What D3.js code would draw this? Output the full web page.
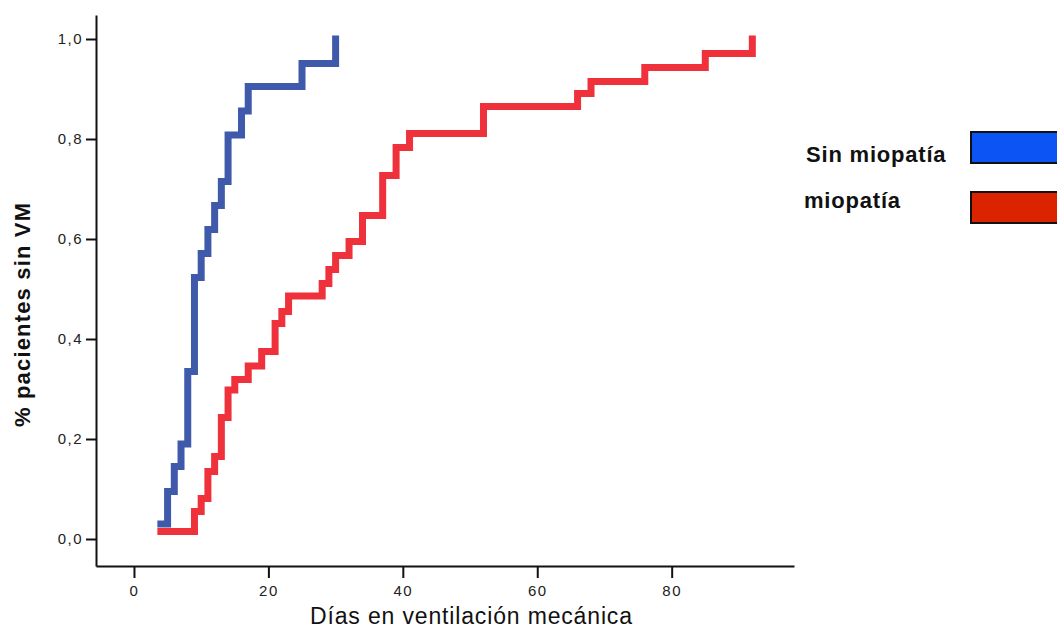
<!DOCTYPE html>
<html>
<head>
<meta charset="utf-8">
<script src="https://cdn.jsdelivr.net/npm/d3@7"></script>
<style>
  body { margin: 0; background: white; }
  svg text { font-family: "Liberation Sans", Arial, sans-serif; }
  .axis path, .axis line { stroke: #111; stroke-width: 2; }
  .axis text { font-size: 15px; fill: #222; letter-spacing: 1.5px; }
</style>
</head>
<body>
<svg width="1057" height="631"></svg>
<script>
// Kaplan-Meier style curves
var
  sinDays = [4, 5, 6, 7, 8, 9, 10, 11, 12, 13, 14, 16, 17, 25, 30],
  sinProp = [0.03, 0.095, 0.145, 0.19, 0.335, 0.523, 0.571, 0.619, 0.667, 0.715, 0.808, 0.856, 0.905, 0.951, 1.0]

var
  mioDays = [4, 9, 10, 11, 12, 13, 14, 15, 17, 19, 21, 22, 23, 28, 29, 30, 32, 34, 37, 39, 41, 52, 66, 68, 76, 85, 92],
  mioProp = [0.015, 0.055, 0.081, 0.135, 0.165, 0.243, 0.298, 0.319, 0.346, 0.375, 0.431, 0.455, 0.486, 0.511,
    0.539, 0.567, 0.595, 0.647, 0.727, 0.783, 0.811, 0.865, 0.891, 0.915, 0.943, 0.971, 1.0]

var
  xTicks = [0, 20, 40, 60, 80],
  yTicks = [0, 0.2, 0.4, 0.6, 0.8, 1.0],
  legendLabels = ["Sin miopatía", "miopatía"]

var
  lineColors = ["#3f5aab", "#ef313c"],
  swatchColors = ["#0c55f4", "#dc2300"]

var svg = d3.select("svg")

var
  days = d3.scaleLinear().domain([-5.65, 98.2]).range([96, 794]),
  prop = d3.scaleLinear().domain([-0.054, 1.048]).range([566, 15])

var xAxis = svg.append("g").attr("class", "axis")
  .attr("transform", "translate(0,566)")
  .call(d3.axisBottom(days).tickValues(xTicks).tickSize(12).tickSizeOuter(0).tickPadding(7))

var yAxis = svg.append("g").attr("class", "axis")
  .attr("transform", "translate(96,0)")
  .call(d3.axisLeft(prop).tickValues(yTicks).tickSize(10).tickSizeOuter(0).tickPadding(3)
    .tickFormat(d => d3.format(".1f")(d).replace(".", ",")))

var line = d3.line()
  .x(d => days(d[0]))
  .y(d => prop(d[1]))
  .curve(d3.curveStepAfter)

var series = [d3.zip(sinDays, sinProp), d3.zip(mioDays, mioProp)]

svg.selectAll("path.km")
  .data(series)
  .join("path")
  .attr("class", "km")
  .attr("d", line)
  .attr("fill", "none")
  .attr("stroke", (d, i) => lineColors[i])
  .attr("stroke-width", 7)
  .attr("stroke-linecap", "square")
  .attr("stroke-linejoin", "miter")

svg.append("text")
  .attr("transform", "translate(30,315) rotate(-90)")
  .attr("text-anchor", "middle")
  .attr("textLength", 224)
  .attr("lengthAdjust", "spacing")
  .style("font-size", "22px")
  .style("font-weight", "bold")
  .style("fill", "#111")
  .text("% pacientes sin VM")

svg.append("text")
  .attr("x", 471)
  .attr("y", 624)
  .attr("text-anchor", "middle")
  .attr("textLength", 322)
  .attr("lengthAdjust", "spacing")
  .style("font-size", "23px")
  .style("fill", "#111")
  .text("Días en ventilación mecánica")

var legend = svg.selectAll("g.legend")
  .data(legendLabels)
  .join("g")
  .attr("class", "legend")
  .attr("transform", (d, i) => `translate(0,${i * 60})`)

legend.append("text")
  .attr("x", (d, i) => i ? 804 : 806)
  .attr("y", (d, i) => i ? 148 : 162)
  .style("font-size", "22px")
  .style("font-weight", "bold")
  .style("letter-spacing", "0.8px")
  .style("fill", "#111")
  .text(d => d)

legend.append("rect")
  .attr("x", 971)
  .attr("y", 132)
  .attr("width", 100)
  .attr("height", 31)
  .attr("fill", (d, i) => swatchColors[i])
  .attr("stroke", "#111")
  .attr("stroke-width", 2)
</script>
</body>
</html>
